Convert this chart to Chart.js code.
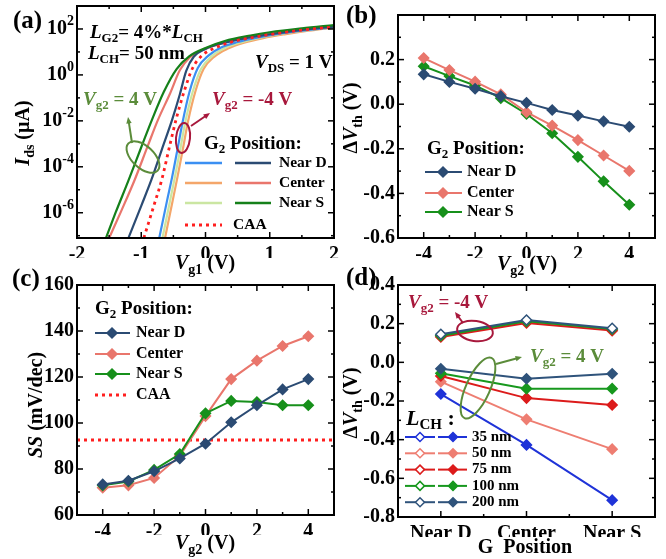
<!DOCTYPE html>
<html>
<head>
<meta charset="utf-8">
<script src="https://cdn.jsdelivr.net/npm/chart.js@4.4.0/dist/chart.umd.min.js"></script>
<style>
  body { margin: 0; background: #fff; }
  #wrap { position: relative; width: 666px; height: 559px; }
  canvas { position: absolute; left: 0; top: 0; }
</style>
</head>
<body>
<div id="wrap">
  <canvas id="chartA" width="666" height="559"></canvas>
  <canvas id="chartB" width="666" height="559"></canvas>
  <canvas id="chartC" width="666" height="559"></canvas>
  <canvas id="chartD" width="666" height="559"></canvas>
</div>
<script>
// ===========================
// Data
// ===========================

// (a) transfer curves, Ids in uA vs Vg1 in V
const vg1NearSp4 = [-1.55, -1.4, -1.2, -1.0, -0.84, -0.65, -0.45, -0.25, 0, 0.3, 0.7, 1.0, 1.5, 2.0];
const idsNearSp4 = [7.9e-8, 1.0e-6, 2.5e-5, 7.1e-4, 1.0e-2, 0.18, 1.8, 6.6, 15, 30, 52, 72, 107, 148];
const vg1Centerp4 = [-1.5, -1.3, -1.1, -0.9, -0.74, -0.55, -0.4, -0.25, -0.1, 0.2, 0.7, 1.0, 1.5, 2.0];
const idsCenterp4 = [7.9e-8, 1.4e-6, 2.8e-5, 7.9e-4, 1.1e-2, 0.16, 1.6, 5.6, 10.5, 22, 45, 61, 95, 126];
const vg1NearDp4 = [-1.2, -1.0, -0.84, -0.68, -0.52, -0.4, -0.3, -0.18, 0, 0.3, 0.7, 1.0, 1.5, 2.0];
const idsNearDp4 = [7.9e-8, 2.0e-6, 2.8e-5, 5.6e-4, 1.1e-2, 0.14, 1.5, 6.3, 13.5, 25, 44, 59, 91, 126];
const vg1CAA = [-0.96, -0.8, -0.68, -0.55, -0.45, -0.33, -0.2, -0.05, 0.15, 0.4, 0.7, 1.0, 1.5, 2.0];
const idsCAA = [7.9e-8, 2.2e-6, 2.8e-5, 1.0e-3, 1.4e-2, 0.2, 2.0, 7.1, 15, 27, 41, 57, 89, 123];
const vg1NearDm4 = [-0.72, -0.6, -0.52, -0.44, -0.36, -0.25, -0.12, 0.05, 0.25, 0.5, 0.8, 1.2, 1.6, 2.0];
const idsNearDm4 = [7.9e-8, 3.2e-6, 3.5e-5, 5.0e-4, 7.9e-3, 0.18, 2.0, 7.1, 16, 27, 42, 66, 91, 120];
const vg1NearSm4 = [-0.67, -0.56, -0.48, -0.4, -0.31, -0.2, -0.07, 0.1, 0.3, 0.55, 0.85, 1.2, 1.6, 2.0];
const idsNearSm4 = [7.9e-8, 2.5e-6, 3.2e-5, 4.5e-4, 1.0e-2, 0.18, 1.8, 6.6, 15, 26, 42, 63, 89, 120];
const vg1Centerm4 = [-0.63, -0.52, -0.44, -0.36, -0.27, -0.16, -0.03, 0.14, 0.35, 0.6, 0.9, 1.25, 1.6, 2.0];
const idsCenterm4 = [7.9e-8, 2.5e-6, 3.2e-5, 4.5e-4, 1.0e-2, 0.18, 1.8, 6.3, 14, 25, 40, 60, 85, 115];
const xTicksA = [-2, -1, 0, 1, 2];
const yDecadesA = [2, 0, -2, -4, -6];

// (b) threshold shift vs Vg2
const vg2 = [-4, -3, -2, -1, 0, 1, 2, 3, 4];
const dvthNearD = [0.134, 0.100, 0.069, 0.036, 0.006, -0.026, -0.051, -0.077, -0.101];
const dvthCenter = [0.207, 0.153, 0.101, 0.044, -0.036, -0.096, -0.161, -0.230, -0.299];
const dvthNearS = [0.170, 0.126, 0.084, 0.027, -0.044, -0.130, -0.236, -0.346, -0.451];

// (c) subthreshold swing vs Vg2
const ssNearD = [73.3, 74.9, 79.0, 84.6, 91.0, 100.3, 107.7, 114.6, 119.1];
const ssCenter = [71.9, 72.9, 76.1, 85.7, 103.0, 119.1, 127.1, 133.5, 137.7];
const ssNearS = [72.9, 74.6, 79.6, 86.5, 104.2, 109.6, 109.1, 107.7, 107.7];
const ssCAA = 92.6;

// (d) threshold shift vs gate position, per channel length
const gPos = ['Near D', 'Center', 'Near S'];
const lchLabels = ['35 nm', '50 nm', '75 nm', '100 nm', '200 nm'];
const dvthM4_35 = [0.138, 0.212, 0.170];
const dvthM4_50 = [0.135, 0.208, 0.168];
const dvthM4_75 = [0.131, 0.204, 0.164];
const dvthM4_100 = [0.138, 0.212, 0.172];
const dvthM4_200 = [0.145, 0.219, 0.176];
const dvthP4_35 = [-0.164, -0.427, -0.713];
const dvthP4_50 = [-0.100, -0.295, -0.449];
const dvthP4_75 = [-0.071, -0.185, -0.221];
const dvthP4_100 = [-0.057, -0.136, -0.136];
const dvthP4_200 = [-0.033, -0.085, -0.059];

// ===========================
// Styling helpers
// ===========================
const FAMILY = '"Liberation Serif", "Times New Roman", serif';
const font = (size, italic) => (italic ? 'italic ' : '') + 'bold ' + size + 'px ' + FAMILY;
const tickFont = { family: FAMILY, size: 20, weight: 'bold' };

const C = {
  navy: '#2b4b73', salmon: '#e9766c', green: '#17901b',
  lblue: '#3b8ff2', orange: '#f4a66a', lgreen: '#cbe6a2', dgreen: '#15801a',
  red: '#ff1f1f', olive: '#5b8c3a', crimson: '#a8183c',
  blue35: '#1f33d8', s50: '#ee7e72', r75: '#dc1b1b', g100: '#17981e', n200: '#2f537b'
};

// text with italic / subscript / superscript runs
function rich(ctx, x, y, parts, o = {}) {
  const size = o.size || 20;
  ctx.save();
  ctx.fillStyle = o.color || '#000';
  ctx.textBaseline = 'middle';
  ctx.textAlign = 'left';
  ctx.translate(x, y);
  if (o.rotate) ctx.rotate(o.rotate);
  const items = parts.map(([t, st = '']) => {
    const small = st === 'sub' || st === 'sup';
    const f = font(small ? Math.round(size * 0.68) : size, st === 'i');
    ctx.font = f;
    const dy = st === 'sub' ? size * 0.3 : st === 'sup' ? -size * 0.36 : 0;
    return { t, f, dy, w: ctx.measureText(t).width };
  });
  const total = items.reduce((s, it) => s + it.w, 0);
  let cx = o.align === 'left' ? 0 : o.align === 'right' ? -total : -total / 2;
  items.forEach(it => { ctx.font = it.f; ctx.fillText(it.t, cx, it.dy); cx += it.w; });
  ctx.restore();
}

function seg(ctx, x1, y1, x2, y2, color, width, dash) {
  ctx.save();
  ctx.strokeStyle = color;
  ctx.lineWidth = width || 2;
  if (dash) ctx.setLineDash(dash);
  ctx.beginPath(); ctx.moveTo(x1, y1); ctx.lineTo(x2, y2); ctx.stroke();
  ctx.restore();
}

function diamond(ctx, x, y, r, color, open) {
  ctx.save();
  ctx.beginPath();
  ctx.moveTo(x, y - r); ctx.lineTo(x + r, y); ctx.lineTo(x, y + r); ctx.lineTo(x - r, y); ctx.closePath();
  ctx.fillStyle = open ? '#fff' : color;
  ctx.fill();
  ctx.strokeStyle = color; ctx.lineWidth = 1.5; ctx.stroke();
  ctx.restore();
}

function ellipse(ctx, x, y, rx, ry, rot, color) {
  ctx.save();
  ctx.strokeStyle = color; ctx.lineWidth = 2;
  ctx.beginPath(); ctx.ellipse(x, y, rx, ry, rot, 0, Math.PI * 2); ctx.stroke();
  ctx.restore();
}

function arrow(ctx, x1, y1, x2, y2, color) {
  const a = Math.atan2(y2 - y1, x2 - x1), h = 7;
  seg(ctx, x1, y1, x2 - Math.cos(a) * 4, y2 - Math.sin(a) * 4, color, 2);
  ctx.save();
  ctx.fillStyle = color;
  ctx.beginPath();
  ctx.moveTo(x2, y2);
  ctx.lineTo(x2 - h * Math.cos(a - 0.4), y2 - h * Math.sin(a - 0.4));
  ctx.lineTo(x2 - h * Math.cos(a + 0.4), y2 - h * Math.sin(a + 0.4));
  ctx.closePath(); ctx.fill();
  ctx.restore();
}

// frame with inward ticks on all four sides
const framePlugin = {
  id: 'frame',
  afterDraw(chart, args, o) {
    const { ctx, chartArea: a, scales: { x, y } } = chart;
    const put = (vals, len, axis) => vals.forEach(v => {
      if (axis === 'x') {
        const px = x.getPixelForValue(v);
        seg(ctx, px, a.bottom, px, a.bottom - len, '#000', 1.5);
        seg(ctx, px, a.top, px, a.top + len, '#000', 1.5);
      } else {
        const py = y.getPixelForValue(v);
        seg(ctx, a.left, py, a.left + len, py, '#000', 1.5);
        seg(ctx, a.right, py, a.right - len, py, '#000', 1.5);
      }
    });
    put(o.xMajor || [], 6, 'x'); put(o.xMinor || [], 3, 'x');
    put(o.yMajor || [], 6, 'y'); put(o.yMinor || [], 3, 'y');
    ctx.save();
    ctx.strokeStyle = '#000'; ctx.lineWidth = 2;
    ctx.strokeRect(a.left, a.top, a.right - a.left, a.bottom - a.top);
    ctx.restore();
  }
};
Chart.register(framePlugin);

function axis(min, max, ticks, fmt, size, horizontal, type) {
  return {
    type: type || 'linear', min, max,
    afterBuildTicks: s => { s.ticks = ticks.map(v => ({ value: v })); },
    afterFit: s => { if (horizontal) s.height = size; else s.width = size; },
    grid: { display: false, drawTicks: false },
    border: { display: false },
    ticks: { display: !!fmt, font: tickFont, color: '#000', padding: horizontal ? 5 : 3,
             maxRotation: 0, autoSkip: false, callback: fmt || (() => '') }
  };
}

function baseOptions(pad, x, y, frame) {
  return {
    responsive: false, animation: false, events: [],
    layout: { padding: pad },
    plugins: { legend: { display: false }, tooltip: { enabled: false }, frame },
    scales: { x, y }
  };
}

const xy = (xs, ys) => xs.map((x, i) => ({ x, y: ys[i] }));
const curve = (xs, ys, color, order, dash) => ({
  data: xy(xs, ys), borderColor: color, borderWidth: dash ? 2.8 : 2.2, pointRadius: 0,
  cubicInterpolationMode: 'monotone', borderDash: dash || [], order
});
const marked = (xs, ys, color, order, open) => ({
  data: xy(xs, ys), borderColor: color, borderWidth: 2, pointStyle: 'rectRot', pointRadius: 5,
  pointBackgroundColor: open ? '#fff' : color, pointBorderColor: color, pointBorderWidth: 1.5, order
});

// ===========================
// (a) Ids - Vg1
// ===========================
new Chart(document.getElementById('chartA'), {
  type: 'line',
  data: {
    datasets: [
      curve(vg1Centerm4, idsCenterm4, C.orange, 7),
      curve(vg1NearSm4, idsNearSm4, C.lgreen, 6),
      curve(vg1NearDm4, idsNearDm4, C.lblue, 5),
      curve(vg1CAA, idsCAA, C.red, 1, [3, 4]),
      curve(vg1Centerp4, idsCenterp4, C.salmon, 4),
      curve(vg1NearDp4, idsNearDp4, C.navy, 3),
      curve(vg1NearSp4, idsNearSp4, C.dgreen, 2)
    ]
  },
  options: baseOptions(
    { left: 37, right: 332, top: 6, bottom: 301 },
    axis(-2, 2, xTicksA, v => String(v), 20, true),
    axis(Math.pow(10, -7.1), 1e3, yDecadesA.map(e => Math.pow(10, e)), null, 40, false, 'logarithmic'),
    { xMajor: xTicksA, xMinor: [-1.5, -0.5, 0.5, 1.5],
      yMajor: yDecadesA.map(e => Math.pow(10, e)), yMinor: [1e1, 1e-1, 1e-3, 1e-5, 1e-7] }
  ),
  plugins: [{
    id: 'decoA',
    afterDraw(chart) {
      const { ctx, chartArea: a, scales: { y } } = chart;
      yDecadesA.forEach(e => rich(ctx, a.left - 3, y.getPixelForValue(Math.pow(10, e)), [['10'], [String(e), 'sup']], { align: 'right' }));
      rich(ctx, 13, 22, [['(a)']], { align: 'left', size: 25 });
      rich(ctx, 24, 133, [['I', 'i'], ['ds', 'sub'], [' (µA)']], { rotate: -Math.PI / 2 });
      rich(ctx, 205, 264, [['V', 'i'], ['g1', 'sub'], [' (V)']]);
      rich(ctx, 90, 33, [['L', 'i'], ['G2', 'sub'], ['= 4%*'], ['L', 'i'], ['CH', 'sub']], { align: 'left', size: 19 });
      rich(ctx, 88, 54, [['L', 'i'], ['CH', 'sub'], ['= 50 nm']], { align: 'left', size: 19 });
      rich(ctx, 255, 63, [['V', 'i'], ['DS', 'sub'], [' = 1 V']], { align: 'left', size: 19 });
      rich(ctx, 83, 100, [['V', 'i'], ['g2', 'sub'], [' = 4 V']], { align: 'left', size: 19, color: C.olive });
      rich(ctx, 212, 100, [['V', 'i'], ['g2', 'sub'], [' = -4 V']], { align: 'left', size: 19, color: C.crimson });
      ellipse(ctx, 143, 157, 20, 11, 0.75, C.olive);
      arrow(ctx, 132, 143, 128, 117, C.olive);
      ellipse(ctx, 183, 138, 7, 15, 0.1, C.crimson);
      arrow(ctx, 191, 126, 210, 113, C.crimson);
      // legend
      rich(ctx, 204, 144, [['G'], ['2', 'sub'], [' Position:']], { align: 'left', size: 19 });
      [['Near D', C.lblue, C.navy], ['Center', C.orange, C.salmon], ['Near S', C.lgreen, C.dgreen]].forEach(([t, c1, c2], i) => {
        const yy = 163 + i * 20;
        seg(ctx, 185, yy, 222, yy, c1, 2.5);
        seg(ctx, 235, yy, 271, yy, c2, 2.5);
        rich(ctx, 279, yy, [[t]], { align: 'left', size: 15.5 });
      });
      seg(ctx, 185, 225, 222, 225, C.red, 2.8, [3, 4]);
      rich(ctx, 233, 225, [['CAA']], { align: 'left', size: 15.5 });
    }
  }]
});

// ===========================
// (b) dVth - Vg2
// ===========================
new Chart(document.getElementById('chartB'), {
  type: 'line',
  data: {
    datasets: [
      marked(vg2, dvthNearD, C.navy, 1),
      marked(vg2, dvthCenter, C.salmon, 2),
      marked(vg2, dvthNearS, C.green, 3)
    ]
  },
  options: baseOptions(
    { left: 358, right: 11, top: 6, bottom: 301 },
    axis(-5, 5, [-4, -2, 0, 2, 4], v => String(v), 20, true),
    axis(-0.6, 0.4, [-0.6, -0.4, -0.2, 0, 0.2, 0.4], v => (v > 0.3 ? '' : v.toFixed(1)), 40, false),
    { xMajor: [-4, -2, 0, 2, 4], xMinor: [-3, -1, 1, 3],
      yMajor: [-0.4, -0.2, 0, 0.2], yMinor: [-0.5, -0.3, -0.1, 0.1, 0.3] }
  ),
  plugins: [{
    id: 'decoB',
    afterDraw(chart) {
      const { ctx } = chart;
      rich(ctx, 346, 17, [['(b)']], { align: 'left', size: 25 });
      rich(ctx, 352, 118, [['Δ'], ['V', 'i'], ['th', 'sub'], [' (V)']], { rotate: -Math.PI / 2 });
      rich(ctx, 527, 265, [['V', 'i'], ['g2', 'sub'], [' (V)']]);
      rich(ctx, 427, 149, [['G'], ['2', 'sub'], [' Position:']], { align: 'left', size: 19 });
      [['Near D', C.navy], ['Center', C.salmon], ['Near S', C.green]].forEach(([t, c], i) => {
        const yy = [172, 193, 212][i];
        seg(ctx, 425, yy, 462, yy, c, 2);
        diamond(ctx, 443, yy, 5, c);
        rich(ctx, 467, yy, [[t]], { align: 'left', size: 16 });
      });
    }
  }]
});

// ===========================
// (c) SS - Vg2
// ===========================
new Chart(document.getElementById('chartC'), {
  type: 'line',
  data: {
    datasets: [
      { data: [{ x: -5, y: ssCAA }, { x: 5, y: ssCAA }], borderColor: C.red, borderWidth: 2.8,
        borderDash: [3, 4], pointRadius: 0, order: 4 },
      marked(vg2, ssNearD, C.navy, 1),
      marked(vg2, ssCenter, C.salmon, 3),
      marked(vg2, ssNearS, C.green, 2)
    ]
  },
  options: baseOptions(
    { left: 37, right: 332, top: 285, bottom: 24 },
    axis(-5, 5, [-4, -2, 0, 2, 4], v => String(v), 20, true),
    axis(60, 160, [60, 80, 100, 120, 140, 160], v => String(v), 40, false),
    { xMajor: [-4, -2, 0, 2, 4], xMinor: [-3, -1, 1, 3],
      yMajor: [80, 100, 120, 140], yMinor: [70, 90, 110, 130, 150] }
  ),
  plugins: [{
    id: 'decoC',
    afterDraw(chart) {
      const { ctx } = chart;
      rich(ctx, 12, 280, [['(c)']], { align: 'left', size: 25 });
      rich(ctx, 37, 405, [['SS', 'i'], [' (mV/dec)']], { rotate: -Math.PI / 2 });
      rich(ctx, 205, 544, [['V', 'i'], ['g2', 'sub'], [' (V)']]);
      rich(ctx, 95, 309, [['G'], ['2', 'sub'], [' Position:']], { align: 'left', size: 19 });
      [['Near D', C.navy], ['Center', C.salmon], ['Near S', C.green]].forEach(([t, c], i) => {
        const yy = [333, 354, 374][i];
        seg(ctx, 95, yy, 130, yy, c, 2);
        diamond(ctx, 112, yy, 5, c);
        rich(ctx, 136, yy, [[t]], { align: 'left', size: 16 });
      });
      seg(ctx, 95, 395, 130, 395, C.red, 2.8, [3, 4]);
      rich(ctx, 136, 395, [['CAA']], { align: 'left', size: 16 });
    }
  }]
});

// ===========================
// (d) dVth - G position
// ===========================
const posIdx = gPos.map((_, i) => i);
const lchColors = [C.blue35, C.s50, C.r75, C.g100, C.n200];
const dvthM4 = [dvthM4_35, dvthM4_50, dvthM4_75, dvthM4_100, dvthM4_200];
const dvthP4 = [dvthP4_35, dvthP4_50, dvthP4_75, dvthP4_100, dvthP4_200];

new Chart(document.getElementById('chartD'), {
  type: 'line',
  data: {
    datasets: [
      ...dvthM4.map((ys, i) => marked(posIdx, ys, lchColors[i], 10 - i, true)),
      ...dvthP4.map((ys, i) => marked(posIdx, ys, lchColors[i], 5 - i, false))
    ]
  },
  options: baseOptions(
    { left: 358, right: 11, top: 285, bottom: 22 },
    axis(-0.5, 2.5, posIdx, v => gPos[v], 20, true),
    axis(-0.8, 0.4, [-0.8, -0.6, -0.4, -0.2, 0, 0.2, 0.4], v => v.toFixed(1), 40, false),
    { xMajor: posIdx, xMinor: [0.5, 1.5],
      yMajor: [-0.6, -0.4, -0.2, 0, 0.2], yMinor: [-0.7, -0.5, -0.3, -0.1, 0.1, 0.3] }
  ),
  plugins: [{
    id: 'decoD',
    afterDraw(chart) {
      const { ctx } = chart;
      rich(ctx, 346, 279, [['(d)']], { align: 'left', size: 25 });
      rich(ctx, 352, 403, [['Δ'], ['V', 'i'], ['th', 'sub'], [' (V)']], { rotate: -Math.PI / 2 });
      rich(ctx, 525, 548, [['G  Position']]);
      rich(ctx, 408, 303, [['V', 'i'], ['g2', 'sub'], [' = -4 V']], { align: 'left', size: 19, color: C.crimson });
      rich(ctx, 530, 357, [['V', 'i'], ['g2', 'sub'], [' = 4 V']], { align: 'left', size: 19, color: C.olive });
      ellipse(ctx, 475, 331, 18, 10, 0.15, C.crimson);
      arrow(ctx, 463, 323, 455, 312, C.crimson);
      ellipse(ctx, 478, 388, 33, 12, -1.15, C.olive);
      arrow(ctx, 496, 364, 522, 357, C.olive);
      rich(ctx, 406, 419, [['L', 'i'], ['CH', 'sub'], [' :']], { align: 'left', size: 22 });
      lchLabels.forEach((t, i) => {
        const yy = 437 + i * 16.3, c = lchColors[i];
        seg(ctx, 405, yy, 435, yy, c, 2);
        diamond(ctx, 420, yy, 4.5, c, true);
        seg(ctx, 438, yy, 467, yy, c, 2);
        diamond(ctx, 453, yy, 4.5, c, false);
        rich(ctx, 472, yy, [[t]], { align: 'left', size: 15 });
      });
    }
  }]
});
</script>
</body>
</html>
